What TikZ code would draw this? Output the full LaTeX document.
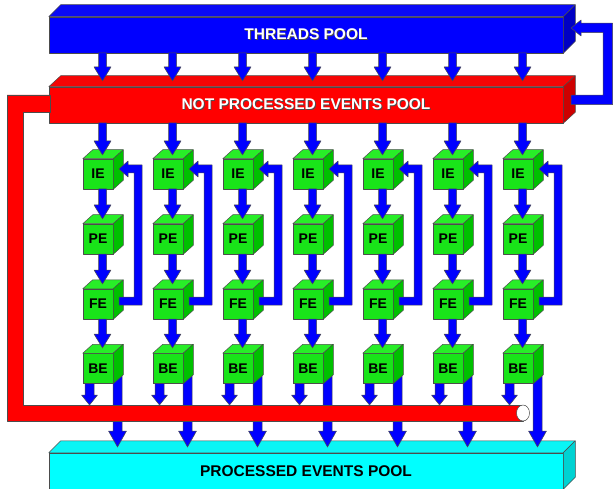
\documentclass[tikz,border=0pt]{standalone}
\usepackage{fontspec}
\setmainfont{Liberation Sans}
\usetikzlibrary{calc}
\definecolor{cblue}{RGB}{0,0,255}
\definecolor{cbluetop}{RGB}{10,10,245}
\definecolor{cblueside}{RGB}{0,0,195}
\definecolor{cred}{RGB}{255,0,0}
\definecolor{credtop}{RGB}{245,5,5}
\definecolor{credside}{RGB}{205,0,0}
\definecolor{cgreen}{RGB}{25,228,25}
\definecolor{cgreentop}{RGB}{40,238,40}
\definecolor{cgreenside}{RGB}{0,192,0}
\definecolor{ccyan}{RGB}{0,255,255}
\definecolor{ccyantop}{RGB}{10,245,245}
\definecolor{ccyanside}{RGB}{0,210,210}
\newcommand\shtext[1]{\rlap{\kern0.9pt\raisebox{-0.9pt}{\color{black!70}#1}}{\color{white}#1}}
\newcommand\faces[5]{%
  \draw[edge, fill=#2] (#1.north west) -- ++(#4,-#5) -- ($(#1.north east)+(#4,-#5)$) -- (#1.north east) -- cycle;
  \draw[edge, fill=#3] (#1.north east) -- ++(#4,-#5) -- ($(#1.south east)+(#4,-#5)$) -- (#1.south east) -- cycle;}
\newcommand\fatdown[6]{% x, y1, y2(tip), head length, head half width, shaft half width
  \draw[fat] ({#1-#6},#2) -- ({#1+#6},#2) -- ({#1+#6},{#3-#4}) -- ({#1+#5},{#3-#4}) -- (#1,#3)
    -- ({#1-#5},{#3-#4}) -- ({#1-#6},{#3-#4}) -- cycle;}
\tikzset{
  edge/.style={draw=black!70, line width=0.5pt, line join=round},
  fat/.style={edge, fill=cblue},
  slabfront/.style={edge, minimum width=514pt, minimum height=36pt, inner sep=0pt,
    font=\bfseries\fontsize{15.5}{17}\selectfont},
  cubefront/.style={edge, fill=cgreen, minimum width=30pt, minimum height=30pt, inner sep=0pt,
    font=\bfseries\fontsize{14}{16}\selectfont},
  pipe/.style={edge, fill=cred},
}
\begin{document}
\begin{tikzpicture}[x=1pt, y=-1pt]
\useasboundingbox (0,0) rectangle (613,489);
% pools
\node[slabfront, fill=cblue] (tp) at (306,35) {\shtext{THREADS POOL}};
\faces{tp}{cbluetop}{cblueside}{12}{12}
\node[slabfront, fill=cred] (np) at (306,105) {\shtext{NOT PROCESSED EVENTS POOL}};
\faces{np}{credtop}{credside}{12}{11}
\node[slabfront, fill=ccyan] (pp) at (306,471) {PROCESSED EVENTS POOL};
\faces{pp}{ccyantop}{ccyanside}{12}{12}
% long arrows from BE to processed pool
\foreach \i in {0,...,6}{
  \pgfmathsetmacro\L{83+70*\i}
  \fatdown{\L+34.5}{370}{447}{16}{9}{4.5}
}
% red return pipe
\draw[pipe] (50,95) -- (7,95) -- (7,421) -- (523,421) -- (523,405) -- (23,405) -- (23,112) -- (50,112) -- cycle;
\draw[edge, fill=white] (523,413) ellipse [x radius=6.5, y radius=8];
% cubes
\foreach \i in {0,...,6}{
  \pgfmathsetmacro\L{83+70*\i}
  \node[cubefront] (ie\i) at (\L+15,174) {IE};
  \faces{ie\i}{cgreentop}{cgreenside}{10}{9}
  \node[cubefront] (pe\i) at (\L+15,239) {PE};
  \faces{pe\i}{cgreentop}{cgreenside}{10}{9}
  \node[cubefront] (fe\i) at (\L+15,304) {FE};
  \faces{fe\i}{cgreentop}{cgreenside}{10}{9}
  \node[cubefront] (be\i) at (\L+15,368.5) {BE};
  \faces{be\i}{cgreentop}{cgreenside}{10}{9}
}
% vertical arrows
\foreach \i in {0,...,6}{
  \pgfmathsetmacro\L{83+70*\i}
  \pgfmathsetmacro\X{\L+19.5}
  \fatdown{\X}{53}{81}{14}{8.5}{4}
  \fatdown{\X}{123}{155}{14}{8.5}{4}
  \fatdown{\X}{189}{219}{14}{8.5}{4}
  \fatdown{\X}{254}{284}{14}{8.5}{4}
  \fatdown{\X}{319}{348}{14}{8.5}{4}
  \fatdown{\L+6.5}{383.5}{405}{10}{8}{4.5}
  % FE -> IE loop
  \draw[fat] (\L+36,305) -- (\L+59,305) -- (\L+59,165) -- (\L+45,165) -- (\L+45,161) -- (\L+36,169)
    -- (\L+45,177) -- (\L+45,173) -- (\L+51,173) -- (\L+51,297) -- (\L+36,297) -- cycle;
}
% big loop from not processed pool back to threads pool
\draw[fat] (571,104.75) -- (612.5,104.75) -- (612.5,23.25) -- (581,23.25) -- (581,20) -- (571,28)
  -- (581,36) -- (581,32.75) -- (603,32.75) -- (603,95.25) -- (571,95.25) -- cycle;
\end{tikzpicture}
\end{document}
